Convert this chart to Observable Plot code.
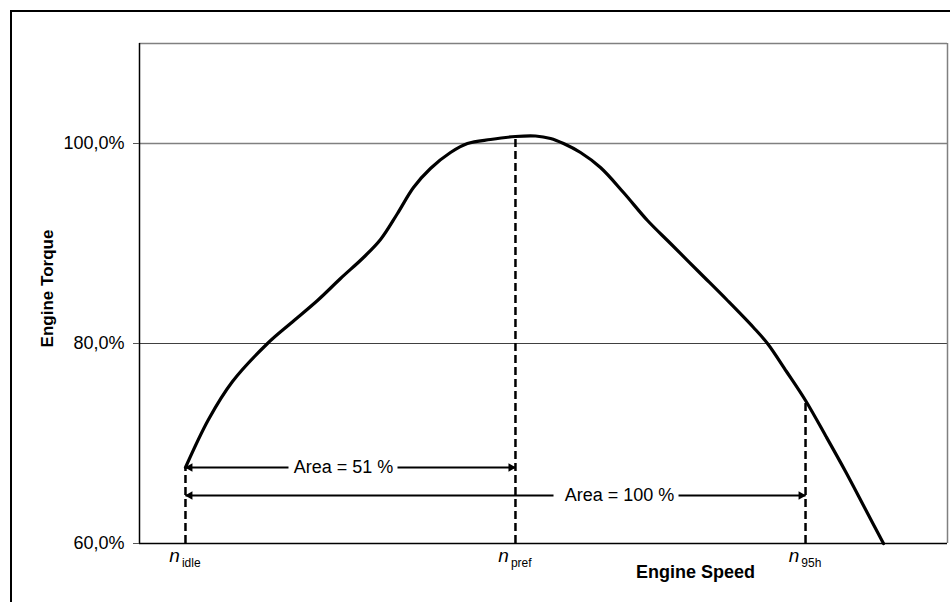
<!DOCTYPE html>
<html>
<head>
<meta charset="utf-8">
<script src="https://cdn.jsdelivr.net/npm/d3@7"></script>
<script src="https://cdn.jsdelivr.net/npm/@observablehq/plot@0.6"></script>
<style>
  html, body { margin: 0; padding: 0; background: white; overflow: hidden; }
  #wrap { position: relative; width: 950px; height: 602px; }
  #frame { position: absolute; left: 10px; top: 10px; width: 1000px; height: 700px; border: 2px solid black; pointer-events: none; }
  #chart { position: absolute; left: 0; top: 0; }
</style>
</head>
<body>
<div id="wrap"><div id="chart"></div><div id="frame"></div></div>
<script>
// Engine speed (normalised 0-100 across the plot) and engine torque (%)
const speed  = [5.69, 8.54, 11.51, 15.84, 18.69, 22.03, 24.88, 27.72, 29.83, 31.93, 33.91, 36.01, 38.49, 40.59, 43.44, 46.53, 49.01, 50.87, 52.48, 54.58, 57.05, 59.90, 62.87, 65.72, 69.43, 72.77, 75.99, 77.72, 80.07, 82.43, 84.90, 87.38, 89.73, 92.08];
const torque = [67.6, 72.4, 76.2, 80.0, 82.0, 84.3, 86.5, 88.6, 90.4, 93.0, 95.6, 97.5, 99.1, 100.0, 100.4, 100.7, 100.75, 100.5, 100.0, 99.1, 97.6, 95.1, 92.3, 90.0, 87.0, 84.3, 81.6, 80.0, 77.2, 74.3, 70.8, 67.2, 63.6, 60.0];

// Characteristic speeds
const markerNames = ["idle", "pref", "95h"];
const markerSpeed = [5.69, 46.53, 82.43];
const markerTorque = [67.6, 100.7, 74.3];

// Area annotations
const areaLabels = ["Area = 51 %", "Area = 100 %"];
const areaStart = [5.69, 5.69];
const areaEnd = [46.53, 82.43];
const areaLevel = [67.6, 64.8];
const areaLabelX = [25.25, 59.41];
const areaGapStart = [18.44, 51.24];
const areaGapEnd = [31.93, 66.71];

// Axes
const yTicks = [60, 80, 100];
const yDomain = [60, 110];
const xDomain = [0, 100];
const xTitle = "Engine Speed";
const xTitlePos = 68.8;
const yTitle = "Engine Torque";

const curve = speed.map((s, i) => ({s, t: torque[i]}));
const markers = markerNames.map((n, i) => ({n, s: markerSpeed[i], t: markerTorque[i]}));
const segments = [];
areaLabels.forEach((l, i) => {
  segments.push({x1: areaStart[i], x2: areaGapStart[i], y: areaLevel[i]});
  segments.push({x1: areaGapEnd[i], x2: areaEnd[i], y: areaLevel[i]});
});
const areas = areaLabels.map((l, i) => ({l, x: areaLabelX[i], y: areaLevel[i], a: areaStart[i], b: areaEnd[i]}));

const font = "'Liberation Sans', Arial, Helvetica, sans-serif";

const plot = Plot.plot({
  width: 950,
  height: 602,
  marginLeft: 139,
  marginRight: 3,
  marginTop: 43,
  marginBottom: 59,
  style: {fontFamily: font, background: "transparent", color: "black"},
  x: {domain: xDomain, axis: null},
  y: {domain: yDomain, axis: null},
  marks: [
    // grid
    Plot.ruleY([100], {stroke: "#808080", strokeWidth: 1.5}),
    Plot.ruleY([80], {stroke: "#404040", strokeWidth: 1}),
    // plot area border
    Plot.ruleY([110], {stroke: "#808080", strokeWidth: 1.5}),
    Plot.ruleX([100], {stroke: "#808080", strokeWidth: 1.5}),
    Plot.ruleX([0], {stroke: "black", strokeWidth: 1.5}),
    Plot.ruleY([60], {stroke: "black", strokeWidth: 1.5}),
    Plot.axisY({
      ticks: yTicks, tickSize: 6, tickPadding: 9, fontSize: 18, stroke: "#555",
      tickFormat: d => d.toFixed(1).replace(".", ",") + "%", label: null
    }),
    // dashed verticals
    Plot.ruleX(markers, {x: "s", y1: 60, y2: "t", stroke: "black", strokeWidth: 2.5, strokeDasharray: "8,4"}),
    // torque curve
    Plot.line(curve, {x: "s", y: "t", curve: "catmull-rom", stroke: "black", strokeWidth: 3.2}),
    // area arrows
    Plot.link(segments, {x1: "x1", x2: "x2", y1: "y", y2: "y", stroke: "black", strokeWidth: 2}),
    Plot.dot(areas, {x: "a", y: "y", symbol: "triangle", r: 3.2, rotate: -90, fill: "black", stroke: null, dx: 4.5}),
    Plot.dot(areas, {x: "b", y: "y", symbol: "triangle", r: 3.2, rotate: 90, fill: "black", stroke: null, dx: -4.5}),
    Plot.text(areas, {x: "x", y: "y", text: "l", fontSize: 18, fill: "black"}),
    // n labels
    Plot.dot(markers, {x: "s", y: 60, render: (index, scales, values) => {
      const g = d3.create("svg:g");
      for (const i of index) {
        const t = g.append("text")
          .attr("x", values.x[i]).attr("y", values.y[i] + 19)
          .attr("text-anchor", "middle").attr("fill", "black");
        t.append("tspan").attr("font-style", "italic").attr("font-size", 19).text("n");
        t.append("tspan").attr("font-size", 12).attr("dx", 2).attr("dy", 5).text(markers[i].n);
      }
      return g.node();
    }}),
    // axis titles
    Plot.text([xTitle], {x: xTitlePos, frameAnchor: "bottom", text: d => d, dy: 34, fontSize: 18, fontWeight: "bold", fill: "black"}),
    Plot.text([yTitle], {frameAnchor: "left", textAnchor: "middle", text: d => d, rotate: -90, dx: -92, dy: -5, fontSize: 17, fontWeight: "bold", fill: "black"})
  ]
});
document.getElementById("chart").appendChild(plot);
</script>
</body>
</html>
